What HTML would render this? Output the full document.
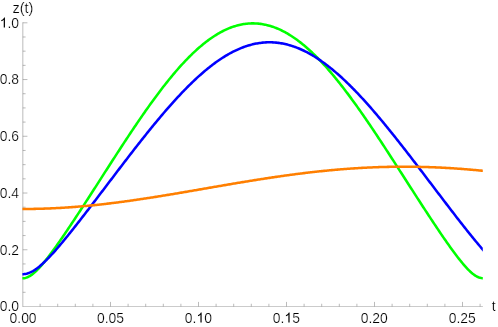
<!DOCTYPE html>
<html><head><meta charset="utf-8"><title>plot</title>
<style>html,body{margin:0;padding:0;background:#fff;width:498px;height:327px;overflow:hidden}body{position:relative;font-family:"Liberation Sans",sans-serif}</style>
</head><body>
<svg width="498" height="327" viewBox="0 0 498 327" style="position:absolute;left:0;top:0">
<rect width="498" height="327" fill="#fff"/>
<g stroke="#666" fill="none">
<path stroke-width="0.34" d="M22.63,306.5 H482.9"/>
<path stroke-width="0.45" d="M22.83,306.7 V22.3"/>
<path stroke-width="0.45" d="M40.10,306.5 v-2.75 M57.70,306.5 v-2.75 M75.30,306.5 v-2.75 M92.90,306.5 v-2.75 M110.50,306.5 v-4.6 M128.10,306.5 v-2.75 M145.70,306.5 v-2.75 M163.30,306.5 v-2.75 M180.90,306.5 v-2.75 M198.50,306.5 v-4.6 M216.10,306.5 v-2.75 M233.70,306.5 v-2.75 M251.30,306.5 v-2.75 M268.90,306.5 v-2.75 M286.50,306.5 v-4.6 M304.10,306.5 v-2.75 M321.70,306.5 v-2.75 M339.30,306.5 v-2.75 M356.90,306.5 v-2.75 M374.50,306.5 v-4.6 M392.10,306.5 v-2.75 M409.70,306.5 v-2.75 M427.30,306.5 v-2.75 M444.90,306.5 v-2.75 M462.50,306.5 v-4.6 M480.10,306.5 v-2.75 M22.83,292.31 h2.75 M22.83,278.13 h2.75 M22.83,263.94 h2.75 M22.83,249.76 h4.6 M22.83,235.57 h2.75 M22.83,221.39 h2.75 M22.83,207.20 h2.75 M22.83,193.02 h4.6 M22.83,178.83 h2.75 M22.83,164.65 h2.75 M22.83,150.47 h2.75 M22.83,136.28 h4.6 M22.83,122.09 h2.75 M22.83,107.91 h2.75 M22.83,93.72 h2.75 M22.83,79.54 h4.6 M22.83,65.35 h2.75 M22.83,51.17 h2.75 M22.83,36.99 h2.75 M22.83,22.80 h4.6"/>
</g>
<clipPath id="c"><rect x="22.4" y="0" width="460.4" height="327"/></clipPath>
<g fill="none" stroke-width="2.55" stroke-linejoin="round" clip-path="url(#c)">
<path stroke="#00ff00" d="M20.74,278.14 L21.86,278.26 L22.97,278.27 L24.09,278.16 L25.20,277.95 L26.32,277.64 L27.43,277.22 L28.55,276.70 L29.66,276.09 L30.78,275.39 L31.89,274.61 L33.01,273.76 L34.12,272.83 L35.24,271.84 L36.35,270.79 L37.47,269.68 L38.58,268.53 L39.70,267.33 L40.81,266.09 L41.93,264.81 L43.04,263.49 L44.16,262.15 L45.27,260.78 L46.39,259.38 L47.50,257.95 L48.62,256.50 L49.73,255.04 L50.85,253.55 L51.96,252.05 L53.08,250.53 L54.19,249.00 L55.31,247.45 L56.42,245.89 L57.54,244.31 L58.65,242.73 L59.77,241.14 L60.88,239.53 L62.00,237.92 L63.11,236.30 L64.23,234.67 L65.35,233.03 L66.46,231.38 L67.58,229.73 L68.69,228.07 L69.81,226.41 L70.92,224.74 L72.04,223.06 L73.15,221.38 L74.27,219.70 L75.38,218.01 L76.50,216.32 L77.61,214.62 L78.73,212.92 L79.84,211.21 L80.96,209.50 L82.07,207.79 L83.19,206.08 L84.30,204.36 L85.42,202.64 L86.53,200.91 L87.65,199.19 L88.76,197.46 L89.88,195.73 L90.99,194.00 L92.11,192.27 L93.22,190.54 L94.34,188.80 L95.45,187.07 L96.57,185.33 L97.68,183.60 L98.80,181.86 L99.91,180.12 L101.03,178.38 L102.14,176.65 L103.26,174.91 L104.37,173.17 L105.49,171.43 L106.61,169.70 L107.72,167.96 L108.84,166.23 L109.95,164.50 L111.07,162.76 L112.18,161.04 L113.30,159.31 L114.41,157.58 L115.53,155.86 L116.64,154.14 L117.76,152.42 L118.87,150.70 L119.99,148.99 L121.10,147.28 L122.22,145.57 L123.33,143.87 L124.45,142.17 L125.56,140.47 L126.68,138.78 L127.79,137.09 L128.91,135.41 L130.02,133.73 L131.14,132.06 L132.25,130.39 L133.37,128.73 L134.48,127.07 L135.60,125.42 L136.71,123.77 L137.83,122.13 L138.94,120.50 L140.06,118.87 L141.17,117.25 L142.29,115.64 L143.40,114.03 L144.52,112.43 L145.63,110.84 L146.75,109.26 L147.86,107.68 L148.98,106.12 L150.10,104.56 L151.21,103.01 L152.33,101.47 L153.44,99.94 L154.56,98.41 L155.67,96.90 L156.79,95.40 L157.90,93.90 L159.02,92.42 L160.13,90.95 L161.25,89.49 L162.36,88.03 L163.48,86.59 L164.59,85.17 L165.71,83.75 L166.82,82.34 L167.94,80.95 L169.05,79.57 L170.17,78.20 L171.28,76.84 L172.40,75.50 L173.51,74.16 L174.63,72.85 L175.74,71.54 L176.86,70.25 L177.97,68.97 L179.09,67.71 L180.20,66.46 L181.32,65.23 L182.43,64.01 L183.55,62.80 L184.66,61.61 L185.78,60.43 L186.89,59.27 L188.01,58.13 L189.12,57.00 L190.24,55.89 L191.36,54.79 L192.47,53.71 L193.59,52.64 L194.70,51.60 L195.82,50.56 L196.93,49.55 L198.05,48.55 L199.16,47.57 L200.28,46.61 L201.39,45.67 L202.51,44.74 L203.62,43.83 L204.74,42.94 L205.85,42.07 L206.97,41.21 L208.08,40.38 L209.20,39.56 L210.31,38.76 L211.43,37.98 L212.54,37.22 L213.66,36.48 L214.77,35.76 L215.89,35.05 L217.00,34.37 L218.12,33.71 L219.23,33.06 L220.35,32.44 L221.46,31.83 L222.58,31.25 L223.69,30.69 L224.81,30.14 L225.92,29.62 L227.04,29.12 L228.15,28.64 L229.27,28.17 L230.38,27.73 L231.50,27.31 L232.61,26.92 L233.73,26.54 L234.85,26.18 L235.96,25.85 L237.08,25.53 L238.19,25.24 L239.31,24.97 L240.42,24.71 L241.54,24.48 L242.65,24.28 L243.77,24.09 L244.88,23.92 L246.00,23.78 L247.11,23.66 L248.23,23.56 L249.34,23.48 L250.46,23.42 L251.57,23.38 L252.69,23.37 L253.80,23.38 L254.92,23.41 L256.03,23.46 L257.15,23.53 L258.26,23.62 L259.38,23.74 L260.49,23.87 L261.61,24.03 L262.72,24.21 L263.84,24.41 L264.95,24.63 L266.07,24.87 L267.18,25.14 L268.30,25.43 L269.41,25.73 L270.53,26.06 L271.64,26.41 L272.76,26.78 L273.87,27.17 L274.99,27.58 L276.11,28.02 L277.22,28.47 L278.34,28.95 L279.45,29.44 L280.57,29.96 L281.68,30.49 L282.80,31.05 L283.91,31.63 L285.03,32.22 L286.14,32.84 L287.26,33.48 L288.37,34.13 L289.49,34.81 L290.60,35.51 L291.72,36.22 L292.83,36.96 L293.95,37.71 L295.06,38.48 L296.18,39.28 L297.29,40.09 L298.41,40.92 L299.52,41.76 L300.64,42.63 L301.75,43.51 L302.87,44.42 L303.98,45.34 L305.10,46.28 L306.21,47.23 L307.33,48.21 L308.44,49.20 L309.56,50.21 L310.67,51.23 L311.79,52.27 L312.90,53.33 L314.02,54.41 L315.13,55.50 L316.25,56.61 L317.36,57.73 L318.48,58.87 L319.60,60.02 L320.71,61.19 L321.83,62.38 L322.94,63.58 L324.06,64.79 L325.17,66.02 L326.29,67.27 L327.40,68.53 L328.52,69.80 L329.63,71.09 L330.75,72.39 L331.86,73.70 L332.98,75.03 L334.09,76.37 L335.21,77.72 L336.32,79.08 L337.44,80.46 L338.55,81.85 L339.67,83.25 L340.78,84.67 L341.90,86.09 L343.01,87.53 L344.13,88.97 L345.24,90.43 L346.36,91.90 L347.47,93.38 L348.59,94.87 L349.70,96.37 L350.82,97.88 L351.93,99.40 L353.05,100.93 L354.16,102.47 L355.28,104.01 L356.39,105.57 L357.51,107.13 L358.62,108.70 L359.74,110.28 L360.86,111.87 L361.97,113.47 L363.09,115.07 L364.20,116.68 L365.32,118.30 L366.43,119.93 L367.55,121.56 L368.66,123.19 L369.78,124.84 L370.89,126.49 L372.01,128.14 L373.12,129.80 L374.24,131.47 L375.35,133.14 L376.47,134.82 L377.58,136.50 L378.70,138.19 L379.81,139.88 L380.93,141.57 L382.04,143.27 L383.16,144.97 L384.27,146.68 L385.39,148.39 L386.50,150.10 L387.62,151.81 L388.73,153.53 L389.85,155.25 L390.96,156.97 L392.08,158.70 L393.19,160.43 L394.31,162.16 L395.42,163.89 L396.54,165.62 L397.65,167.35 L398.77,169.09 L399.88,170.82 L401.00,172.56 L402.11,174.30 L403.23,176.03 L404.35,177.77 L405.46,179.51 L406.58,181.25 L407.69,182.98 L408.81,184.72 L409.92,186.46 L411.04,188.19 L412.15,189.93 L413.27,191.66 L414.38,193.39 L415.50,195.13 L416.61,196.85 L417.73,198.58 L418.84,200.31 L419.96,202.03 L421.07,203.75 L422.19,205.47 L423.30,207.19 L424.42,208.90 L425.53,210.61 L426.65,212.32 L427.76,214.02 L428.88,215.72 L429.99,217.41 L431.11,219.11 L432.22,220.79 L433.34,222.47 L434.45,224.15 L435.57,225.82 L436.68,227.49 L437.80,229.15 L438.91,230.80 L440.03,232.45 L441.14,234.09 L442.26,235.72 L443.37,237.35 L444.49,238.97 L445.61,240.57 L446.72,242.17 L447.84,243.76 L448.95,245.34 L450.07,246.90 L451.18,248.45 L452.30,249.99 L453.41,251.52 L454.53,253.03 L455.64,254.52 L456.76,255.99 L457.87,257.44 L458.99,258.88 L460.10,260.29 L461.22,261.67 L462.33,263.02 L463.45,264.35 L464.56,265.64 L465.68,266.90 L466.79,268.11 L467.91,269.28 L469.02,270.41 L470.14,271.48 L471.25,272.49 L472.37,273.44 L473.48,274.32 L474.60,275.13 L475.71,275.86 L476.83,276.50 L477.94,277.05 L479.06,277.50 L480.17,277.86 L481.29,278.10 L482.40,278.24 L483.52,278.27 L484.63,278.19 L485.75,278.00 L486.86,277.71 L487.98,277.31"/>
<path stroke="#0000ff" d="M20.74,274.07 L21.86,274.15 L22.97,274.16 L24.09,274.09 L25.20,273.95 L26.32,273.73 L27.43,273.44 L28.55,273.08 L29.66,272.66 L30.78,272.17 L31.89,271.61 L33.01,271.00 L34.12,270.33 L35.24,269.61 L36.35,268.84 L37.47,268.02 L38.58,267.15 L39.70,266.25 L40.81,265.31 L41.93,264.33 L43.04,263.31 L44.16,262.27 L45.27,261.20 L46.39,260.10 L47.50,258.97 L48.62,257.82 L49.73,256.66 L50.85,255.47 L51.96,254.26 L53.08,253.03 L54.19,251.79 L55.31,250.53 L56.42,249.26 L57.54,247.97 L58.65,246.68 L59.77,245.37 L60.88,244.05 L62.00,242.72 L63.11,241.38 L64.23,240.03 L65.35,238.67 L66.46,237.31 L67.58,235.94 L68.69,234.56 L69.81,233.17 L70.92,231.78 L72.04,230.38 L73.15,228.98 L74.27,227.57 L75.38,226.16 L76.50,224.74 L77.61,223.32 L78.73,221.89 L79.84,220.46 L80.96,219.03 L82.07,217.59 L83.19,216.15 L84.30,214.71 L85.42,213.27 L86.53,211.82 L87.65,210.37 L88.76,208.91 L89.88,207.46 L90.99,206.00 L92.11,204.55 L93.22,203.09 L94.34,201.62 L95.45,200.16 L96.57,198.70 L97.68,197.23 L98.80,195.77 L99.91,194.30 L101.03,192.83 L102.14,191.37 L103.26,189.90 L104.37,188.43 L105.49,186.96 L106.61,185.49 L107.72,184.02 L108.84,182.55 L109.95,181.08 L111.07,179.62 L112.18,178.15 L113.30,176.68 L114.41,175.21 L115.53,173.75 L116.64,172.28 L117.76,170.82 L118.87,169.36 L119.99,167.90 L121.10,166.44 L122.22,164.98 L123.33,163.52 L124.45,162.07 L125.56,160.62 L126.68,159.16 L127.79,157.72 L128.91,156.27 L130.02,154.83 L131.14,153.38 L132.25,151.95 L133.37,150.51 L134.48,149.08 L135.60,147.65 L136.71,146.22 L137.83,144.80 L138.94,143.38 L140.06,141.96 L141.17,140.55 L142.29,139.14 L143.40,137.73 L144.52,136.33 L145.63,134.93 L146.75,133.54 L147.86,132.15 L148.98,130.77 L150.10,129.39 L151.21,128.02 L152.33,126.65 L153.44,125.29 L154.56,123.93 L155.67,122.58 L156.79,121.23 L157.90,119.89 L159.02,118.56 L160.13,117.23 L161.25,115.91 L162.36,114.59 L163.48,113.28 L164.59,111.98 L165.71,110.69 L166.82,109.40 L167.94,108.12 L169.05,106.85 L170.17,105.58 L171.28,104.32 L172.40,103.08 L173.51,101.83 L174.63,100.60 L175.74,99.38 L176.86,98.16 L177.97,96.95 L179.09,95.76 L180.20,94.57 L181.32,93.39 L182.43,92.22 L183.55,91.06 L184.66,89.91 L185.78,88.77 L186.89,87.63 L188.01,86.51 L189.12,85.40 L190.24,84.31 L191.36,83.22 L192.47,82.14 L193.59,81.07 L194.70,80.02 L195.82,78.97 L196.93,77.94 L198.05,76.92 L199.16,75.91 L200.28,74.92 L201.39,73.93 L202.51,72.96 L203.62,72.00 L204.74,71.06 L205.85,70.12 L206.97,69.20 L208.08,68.30 L209.20,67.40 L210.31,66.52 L211.43,65.65 L212.54,64.80 L213.66,63.96 L214.77,63.14 L215.89,62.33 L217.00,61.53 L218.12,60.75 L219.23,59.98 L220.35,59.23 L221.46,58.49 L222.58,57.77 L223.69,57.06 L224.81,56.37 L225.92,55.69 L227.04,55.03 L228.15,54.38 L229.27,53.75 L230.38,53.14 L231.50,52.54 L232.61,51.96 L233.73,51.39 L234.85,50.84 L235.96,50.31 L237.08,49.79 L238.19,49.29 L239.31,48.81 L240.42,48.34 L241.54,47.89 L242.65,47.46 L243.77,47.04 L244.88,46.64 L246.00,46.26 L247.11,45.90 L248.23,45.55 L249.34,45.22 L250.46,44.91 L251.57,44.61 L252.69,44.33 L253.80,44.07 L254.92,43.83 L256.03,43.61 L257.15,43.40 L258.26,43.21 L259.38,43.04 L260.49,42.89 L261.61,42.75 L262.72,42.63 L263.84,42.53 L264.95,42.45 L266.07,42.39 L267.18,42.34 L268.30,42.31 L269.41,42.30 L270.53,42.31 L271.64,42.34 L272.76,42.38 L273.87,42.44 L274.99,42.52 L276.11,42.62 L277.22,42.73 L278.34,42.87 L279.45,43.02 L280.57,43.19 L281.68,43.38 L282.80,43.58 L283.91,43.80 L285.03,44.04 L286.14,44.30 L287.26,44.58 L288.37,44.87 L289.49,45.18 L290.60,45.51 L291.72,45.85 L292.83,46.21 L293.95,46.59 L295.06,46.99 L296.18,47.40 L297.29,47.84 L298.41,48.28 L299.52,48.75 L300.64,49.23 L301.75,49.73 L302.87,50.24 L303.98,50.77 L305.10,51.32 L306.21,51.89 L307.33,52.47 L308.44,53.06 L309.56,53.67 L310.67,54.30 L311.79,54.95 L312.90,55.61 L314.02,56.28 L315.13,56.97 L316.25,57.68 L317.36,58.40 L318.48,59.13 L319.60,59.88 L320.71,60.65 L321.83,61.43 L322.94,62.22 L324.06,63.03 L325.17,63.86 L326.29,64.69 L327.40,65.55 L328.52,66.41 L329.63,67.29 L330.75,68.18 L331.86,69.09 L332.98,70.01 L334.09,70.94 L335.21,71.88 L336.32,72.84 L337.44,73.81 L338.55,74.79 L339.67,75.79 L340.78,76.79 L341.90,77.81 L343.01,78.84 L344.13,79.88 L345.24,80.94 L346.36,82.00 L347.47,83.08 L348.59,84.17 L349.70,85.26 L350.82,86.37 L351.93,87.49 L353.05,88.62 L354.16,89.76 L355.28,90.91 L356.39,92.07 L357.51,93.24 L358.62,94.42 L359.74,95.60 L360.86,96.80 L361.97,98.01 L363.09,99.22 L364.20,100.45 L365.32,101.68 L366.43,102.92 L367.55,104.17 L368.66,105.42 L369.78,106.69 L370.89,107.96 L372.01,109.24 L373.12,110.52 L374.24,111.82 L375.35,113.12 L376.47,114.43 L377.58,115.74 L378.70,117.06 L379.81,118.39 L380.93,119.72 L382.04,121.06 L383.16,122.41 L384.27,123.76 L385.39,125.11 L386.50,126.48 L387.62,127.84 L388.73,129.22 L389.85,130.59 L390.96,131.98 L392.08,133.36 L393.19,134.76 L394.31,136.15 L395.42,137.55 L396.54,138.96 L397.65,140.37 L398.77,141.78 L399.88,143.20 L401.00,144.61 L402.11,146.04 L403.23,147.46 L404.35,148.89 L405.46,150.33 L406.58,151.76 L407.69,153.20 L408.81,154.64 L409.92,156.09 L411.04,157.53 L412.15,158.98 L413.27,160.43 L414.38,161.88 L415.50,163.34 L416.61,164.79 L417.73,166.25 L418.84,167.71 L419.96,169.17 L421.07,170.63 L422.19,172.10 L423.30,173.56 L424.42,175.03 L425.53,176.49 L426.65,177.96 L427.76,179.43 L428.88,180.90 L429.99,182.37 L431.11,183.83 L432.22,185.30 L433.34,186.77 L434.45,188.24 L435.57,189.71 L436.68,191.18 L437.80,192.65 L438.91,194.11 L440.03,195.58 L441.14,197.05 L442.26,198.51 L443.37,199.98 L444.49,201.44 L445.61,202.90 L446.72,204.36 L447.84,205.82 L448.95,207.28 L450.07,208.73 L451.18,210.18 L452.30,211.63 L453.41,213.08 L454.53,214.53 L455.64,215.97 L456.76,217.41 L457.87,218.85 L458.99,220.28 L460.10,221.71 L461.22,223.14 L462.33,224.56 L463.45,225.98 L464.56,227.39 L465.68,228.80 L466.79,230.20 L467.91,231.60 L469.02,232.99 L470.14,234.38 L471.25,235.76 L472.37,237.13 L473.48,238.50 L474.60,239.86 L475.71,241.21 L476.83,242.55 L477.94,243.88 L479.06,245.20 L480.17,246.51 L481.29,247.81 L482.40,249.10 L483.52,250.37 L484.63,251.63 L485.75,252.87 L486.86,254.10 L487.98,255.31"/>
<path stroke="#ff7f00" d="M20.74,208.99 L21.86,208.99 L22.97,208.99 L24.09,208.99 L25.20,208.98 L26.32,208.98 L27.43,208.97 L28.55,208.96 L29.66,208.95 L30.78,208.94 L31.89,208.92 L33.01,208.90 L34.12,208.88 L35.24,208.86 L36.35,208.84 L37.47,208.81 L38.58,208.79 L39.70,208.76 L40.81,208.73 L41.93,208.70 L43.04,208.66 L44.16,208.63 L45.27,208.59 L46.39,208.55 L47.50,208.50 L48.62,208.46 L49.73,208.42 L50.85,208.37 L51.96,208.32 L53.08,208.27 L54.19,208.21 L55.31,208.16 L56.42,208.10 L57.54,208.04 L58.65,207.98 L59.77,207.92 L60.88,207.86 L62.00,207.79 L63.11,207.72 L64.23,207.65 L65.35,207.58 L66.46,207.51 L67.58,207.43 L68.69,207.36 L69.81,207.28 L70.92,207.20 L72.04,207.12 L73.15,207.03 L74.27,206.95 L75.38,206.86 L76.50,206.77 L77.61,206.68 L78.73,206.59 L79.84,206.49 L80.96,206.40 L82.07,206.30 L83.19,206.20 L84.30,206.10 L85.42,206.00 L86.53,205.90 L87.65,205.79 L88.76,205.69 L89.88,205.58 L90.99,205.47 L92.11,205.36 L93.22,205.24 L94.34,205.13 L95.45,205.01 L96.57,204.90 L97.68,204.78 L98.80,204.66 L99.91,204.53 L101.03,204.41 L102.14,204.29 L103.26,204.16 L104.37,204.03 L105.49,203.90 L106.61,203.77 L107.72,203.64 L108.84,203.51 L109.95,203.37 L111.07,203.24 L112.18,203.10 L113.30,202.96 L114.41,202.82 L115.53,202.68 L116.64,202.54 L117.76,202.39 L118.87,202.25 L119.99,202.10 L121.10,201.96 L122.22,201.81 L123.33,201.66 L124.45,201.51 L125.56,201.35 L126.68,201.20 L127.79,201.05 L128.91,200.89 L130.02,200.74 L131.14,200.58 L132.25,200.42 L133.37,200.26 L134.48,200.10 L135.60,199.94 L136.71,199.77 L137.83,199.61 L138.94,199.45 L140.06,199.28 L141.17,199.11 L142.29,198.95 L143.40,198.78 L144.52,198.61 L145.63,198.44 L146.75,198.27 L147.86,198.10 L148.98,197.92 L150.10,197.75 L151.21,197.58 L152.33,197.40 L153.44,197.23 L154.56,197.05 L155.67,196.87 L156.79,196.69 L157.90,196.51 L159.02,196.34 L160.13,196.16 L161.25,195.97 L162.36,195.79 L163.48,195.61 L164.59,195.43 L165.71,195.25 L166.82,195.06 L167.94,194.88 L169.05,194.69 L170.17,194.51 L171.28,194.32 L172.40,194.14 L173.51,193.95 L174.63,193.76 L175.74,193.57 L176.86,193.39 L177.97,193.20 L179.09,193.01 L180.20,192.82 L181.32,192.63 L182.43,192.44 L183.55,192.25 L184.66,192.06 L185.78,191.87 L186.89,191.68 L188.01,191.49 L189.12,191.29 L190.24,191.10 L191.36,190.91 L192.47,190.72 L193.59,190.52 L194.70,190.33 L195.82,190.14 L196.93,189.95 L198.05,189.75 L199.16,189.56 L200.28,189.37 L201.39,189.17 L202.51,188.98 L203.62,188.79 L204.74,188.59 L205.85,188.40 L206.97,188.21 L208.08,188.01 L209.20,187.82 L210.31,187.63 L211.43,187.43 L212.54,187.24 L213.66,187.05 L214.77,186.85 L215.89,186.66 L217.00,186.47 L218.12,186.28 L219.23,186.09 L220.35,185.89 L221.46,185.70 L222.58,185.51 L223.69,185.32 L224.81,185.13 L225.92,184.94 L227.04,184.75 L228.15,184.56 L229.27,184.37 L230.38,184.18 L231.50,183.99 L232.61,183.80 L233.73,183.61 L234.85,183.42 L235.96,183.24 L237.08,183.05 L238.19,182.86 L239.31,182.68 L240.42,182.49 L241.54,182.30 L242.65,182.12 L243.77,181.94 L244.88,181.75 L246.00,181.57 L247.11,181.39 L248.23,181.20 L249.34,181.02 L250.46,180.84 L251.57,180.66 L252.69,180.48 L253.80,180.30 L254.92,180.12 L256.03,179.95 L257.15,179.77 L258.26,179.59 L259.38,179.42 L260.49,179.24 L261.61,179.07 L262.72,178.90 L263.84,178.72 L264.95,178.55 L266.07,178.38 L267.18,178.21 L268.30,178.04 L269.41,177.87 L270.53,177.71 L271.64,177.54 L272.76,177.37 L273.87,177.21 L274.99,177.04 L276.11,176.88 L277.22,176.72 L278.34,176.56 L279.45,176.40 L280.57,176.24 L281.68,176.08 L282.80,175.92 L283.91,175.77 L285.03,175.61 L286.14,175.46 L287.26,175.30 L288.37,175.15 L289.49,175.00 L290.60,174.85 L291.72,174.70 L292.83,174.55 L293.95,174.40 L295.06,174.26 L296.18,174.11 L297.29,173.97 L298.41,173.83 L299.52,173.69 L300.64,173.55 L301.75,173.41 L302.87,173.27 L303.98,173.13 L305.10,173.00 L306.21,172.86 L307.33,172.73 L308.44,172.60 L309.56,172.47 L310.67,172.34 L311.79,172.21 L312.90,172.08 L314.02,171.96 L315.13,171.83 L316.25,171.71 L317.36,171.59 L318.48,171.47 L319.60,171.35 L320.71,171.23 L321.83,171.12 L322.94,171.00 L324.06,170.89 L325.17,170.77 L326.29,170.66 L327.40,170.55 L328.52,170.45 L329.63,170.34 L330.75,170.23 L331.86,170.13 L332.98,170.03 L334.09,169.93 L335.21,169.83 L336.32,169.73 L337.44,169.63 L338.55,169.54 L339.67,169.45 L340.78,169.35 L341.90,169.26 L343.01,169.17 L344.13,169.09 L345.24,169.00 L346.36,168.91 L347.47,168.83 L348.59,168.75 L349.70,168.67 L350.82,168.59 L351.93,168.51 L353.05,168.44 L354.16,168.37 L355.28,168.29 L356.39,168.22 L357.51,168.15 L358.62,168.09 L359.74,168.02 L360.86,167.95 L361.97,167.89 L363.09,167.83 L364.20,167.77 L365.32,167.71 L366.43,167.66 L367.55,167.60 L368.66,167.55 L369.78,167.50 L370.89,167.45 L372.01,167.40 L373.12,167.35 L374.24,167.31 L375.35,167.26 L376.47,167.22 L377.58,167.18 L378.70,167.14 L379.81,167.10 L380.93,167.07 L382.04,167.04 L383.16,167.00 L384.27,166.97 L385.39,166.94 L386.50,166.92 L387.62,166.89 L388.73,166.87 L389.85,166.85 L390.96,166.83 L392.08,166.81 L393.19,166.79 L394.31,166.78 L395.42,166.76 L396.54,166.75 L397.65,166.74 L398.77,166.73 L399.88,166.72 L401.00,166.72 L402.11,166.72 L403.23,166.71 L404.35,166.71 L405.46,166.71 L406.58,166.72 L407.69,166.72 L408.81,166.73 L409.92,166.74 L411.04,166.75 L412.15,166.76 L413.27,166.77 L414.38,166.79 L415.50,166.80 L416.61,166.82 L417.73,166.84 L418.84,166.86 L419.96,166.89 L421.07,166.91 L422.19,166.94 L423.30,166.97 L424.42,167.00 L425.53,167.03 L426.65,167.06 L427.76,167.09 L428.88,167.13 L429.99,167.17 L431.11,167.21 L432.22,167.25 L433.34,167.29 L434.45,167.34 L435.57,167.38 L436.68,167.43 L437.80,167.48 L438.91,167.53 L440.03,167.59 L441.14,167.64 L442.26,167.70 L443.37,167.75 L444.49,167.81 L445.61,167.87 L446.72,167.94 L447.84,168.00 L448.95,168.07 L450.07,168.13 L451.18,168.20 L452.30,168.27 L453.41,168.34 L454.53,168.42 L455.64,168.49 L456.76,168.57 L457.87,168.65 L458.99,168.73 L460.10,168.81 L461.22,168.89 L462.33,168.98 L463.45,169.06 L464.56,169.15 L465.68,169.24 L466.79,169.33 L467.91,169.42 L469.02,169.51 L470.14,169.61 L471.25,169.70 L472.37,169.80 L473.48,169.90 L474.60,170.00 L475.71,170.10 L476.83,170.20 L477.94,170.31 L479.06,170.42 L480.17,170.52 L481.29,170.63 L482.40,170.74 L483.52,170.85 L484.63,170.97 L485.75,171.08 L486.86,171.20 L487.98,171.32"/>
</g>
<g font-family="Liberation Sans, sans-serif" font-size="13.9" fill="#000" stroke="#fff" stroke-width="0.22" style="filter:grayscale(1)">
<text x="-0.22" y="311.30">0.0</text>
<text x="-0.22" y="254.56">0.2</text>
<text x="-0.22" y="197.82">0.4</text>
<text x="-0.22" y="141.08">0.6</text>
<text x="-0.22" y="84.34">0.8</text>
<path transform="translate(-0.22,27.60) scale(0.006787,-0.006787)" d="M763,0H583V1147Q518,1085 412.5,1023Q307,961 223,930V1104Q374,1175 487,1276Q600,1377 647,1472H763Z"/><text x="7.51" y="27.60">.0</text>
<text x="9.57" y="322.60">0.00</text>
<text x="96.92" y="322.60">0.05</text>
<text x="184.87" y="322.60">0.</text><path transform="translate(196.47,322.60) scale(0.006787,-0.006787)" d="M763,0H583V1147Q518,1085 412.5,1023Q307,961 223,930V1104Q374,1175 487,1276Q600,1377 647,1472H763Z"/><text x="204.20" y="322.60">0</text>
<text x="272.82" y="322.60">0.</text><path transform="translate(284.42,322.60) scale(0.006787,-0.006787)" d="M763,0H583V1147Q518,1085 412.5,1023Q307,961 223,930V1104Q374,1175 487,1276Q600,1377 647,1472H763Z"/><text x="292.15" y="322.60">5</text>
<text x="360.77" y="322.60">0.20</text>
<text x="448.72" y="322.60">0.25</text>
<text transform="translate(12.4,12.6) scale(1.05,1)">z(t)</text>
<text x="491.7" y="311.1">t</text>
</g>
</svg>
</body></html>
